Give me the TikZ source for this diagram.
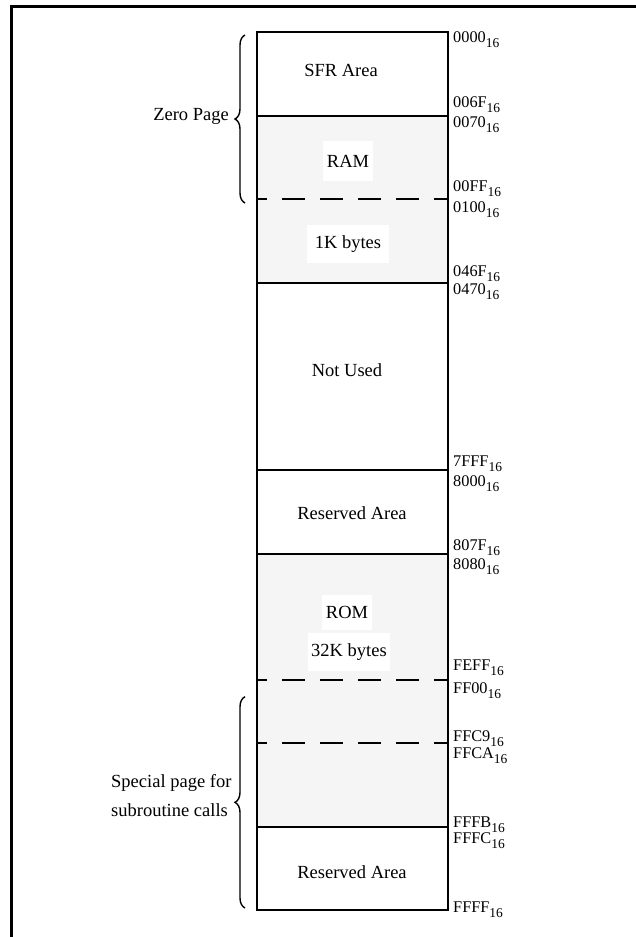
\documentclass[tikz,border=0pt]{standalone}
\usepackage{fontspec}
\setmainfont{Liberation Serif}
\usetikzlibrary{decorations.pathreplacing}
\newcommand{\hexlab}[1]{#1\raisebox{-5pt}{\fontsize{13.5}{13.5}\selectfont 16}}
\begin{document}
\begin{tikzpicture}[x=1pt,y=-1pt,
  memline/.style={line width=2pt},
  dashline/.style={line width=2pt, dash pattern=on 23pt off 15pt, dash phase=13pt},
  addr/.style={anchor=base west, inner sep=0pt, font=\fontsize{16.3}{18}\selectfont},
  areatext/.style={anchor=base, inner sep=0pt, font=\fontsize{18.5}{22}\selectfont},
  whitelab/.style={fill=white, inner sep=0pt, font=\fontsize{18.5}{22}\selectfont},
  bracestyle/.style={decorate, decoration={brace, amplitude=10pt}, line width=1.4pt},
  sidetext/.style={anchor=base west, inner sep=0pt, font=\fontsize{18.5}{22}\selectfont}]

\useasboundingbox (0,0) rectangle (636,937);
% outer frame
\draw[line width=3pt] (11.5,950) -- (11.5,6.5) -- (650,6.5);

% shaded regions
\fill[black!4] (257,115.7) rectangle (448,283);
\fill[black!4] (257,554) rectangle (448,827);

% outer box
\draw[memline] (257,31.7) rectangle (448,910);
% solid separators
\foreach \yy in {115.7,283,470,554,827}
  \draw[memline] (257,\yy) -- (448,\yy);
% dashed separators
\foreach \yy in {199.3,680.3,743.3}
  \draw[dashline] (257,\yy) -- (448,\yy);

% area labels
\node[areatext] (sfr) at (341,76.7) {SFR Area};
\node[whitelab, minimum width=50pt, minimum height=40pt] (ram) at (348,161) {RAM};
\node[whitelab, minimum width=82pt, minimum height=38pt] (onek) at (348,243.7) {1K bytes};
\node[areatext] (notused) at (347,376.5) {Not Used};
\node[areatext] (res1) at (352,519) {Reserved Area};
\node[whitelab, minimum width=50pt, minimum height=35pt] (rom) at (347,612.5) {ROM};
\node[whitelab, minimum width=82pt, minimum height=38pt] (thirtytwok) at (349,651.7) {32K bytes};
\node[areatext] (res2) at (352,878) {Reserved Area};

% addresses
\node[addr] (a0000) at (453,42.2) {\hexlab{0000}};
\node[addr] (a006F) at (453,107.2) {\hexlab{006F}};
\node[addr] (a0070) at (453,127.5) {\hexlab{0070}};
\node[addr] (a00FF) at (453,191.5) {\hexlab{00FF}};
\node[addr] (a0100) at (453,212.5) {\hexlab{0100}};
\node[addr] (a046F) at (453,276) {\hexlab{046F}};
\node[addr] (a0470) at (453,294.5) {\hexlab{0470}};
\node[addr] (a7FFF) at (453,466.5) {\hexlab{7FFF}};
\node[addr] (a8000) at (453,486.5) {\hexlab{8000}};
\node[addr] (a807F) at (453,550.5) {\hexlab{807F}};
\node[addr] (a8080) at (453,569) {\hexlab{8080}};
\node[addr] (aFEFF) at (453,670.5) {\hexlab{FEFF}};
\node[addr] (aFF00) at (453,693) {\hexlab{FF00}};
\node[addr] (aFFC9) at (453,741.5) {\hexlab{FFC9}};
\node[addr] (aFFCA) at (453,758.5) {\hexlab{FFCA}};
\node[addr] (aFFFB) at (453,827) {\hexlab{FFFB}};
\node[addr] (aFFFC) at (453,843.5) {\hexlab{FFFC}};
\node[addr] (aFFFF) at (453,912.5) {\hexlab{FFFF}};

% braces
\coordinate (zpbot) at (245,203);
\coordinate (zptop) at (245,35);
\draw[bracestyle] (zpbot) -- (zptop);
\node[sidetext, anchor=base east] (zeropage) at (229,120.5) {Zero Page};

\coordinate (spbot) at (245,908);
\coordinate (sptop) at (245,696.7);
\draw[bracestyle] (spbot) -- (sptop);
\node[sidetext] (sp1) at (111,787.3) {Special page for};
\node[sidetext] (sp2) at (111,816.7) {subroutine calls};
\end{tikzpicture}
\end{document}
